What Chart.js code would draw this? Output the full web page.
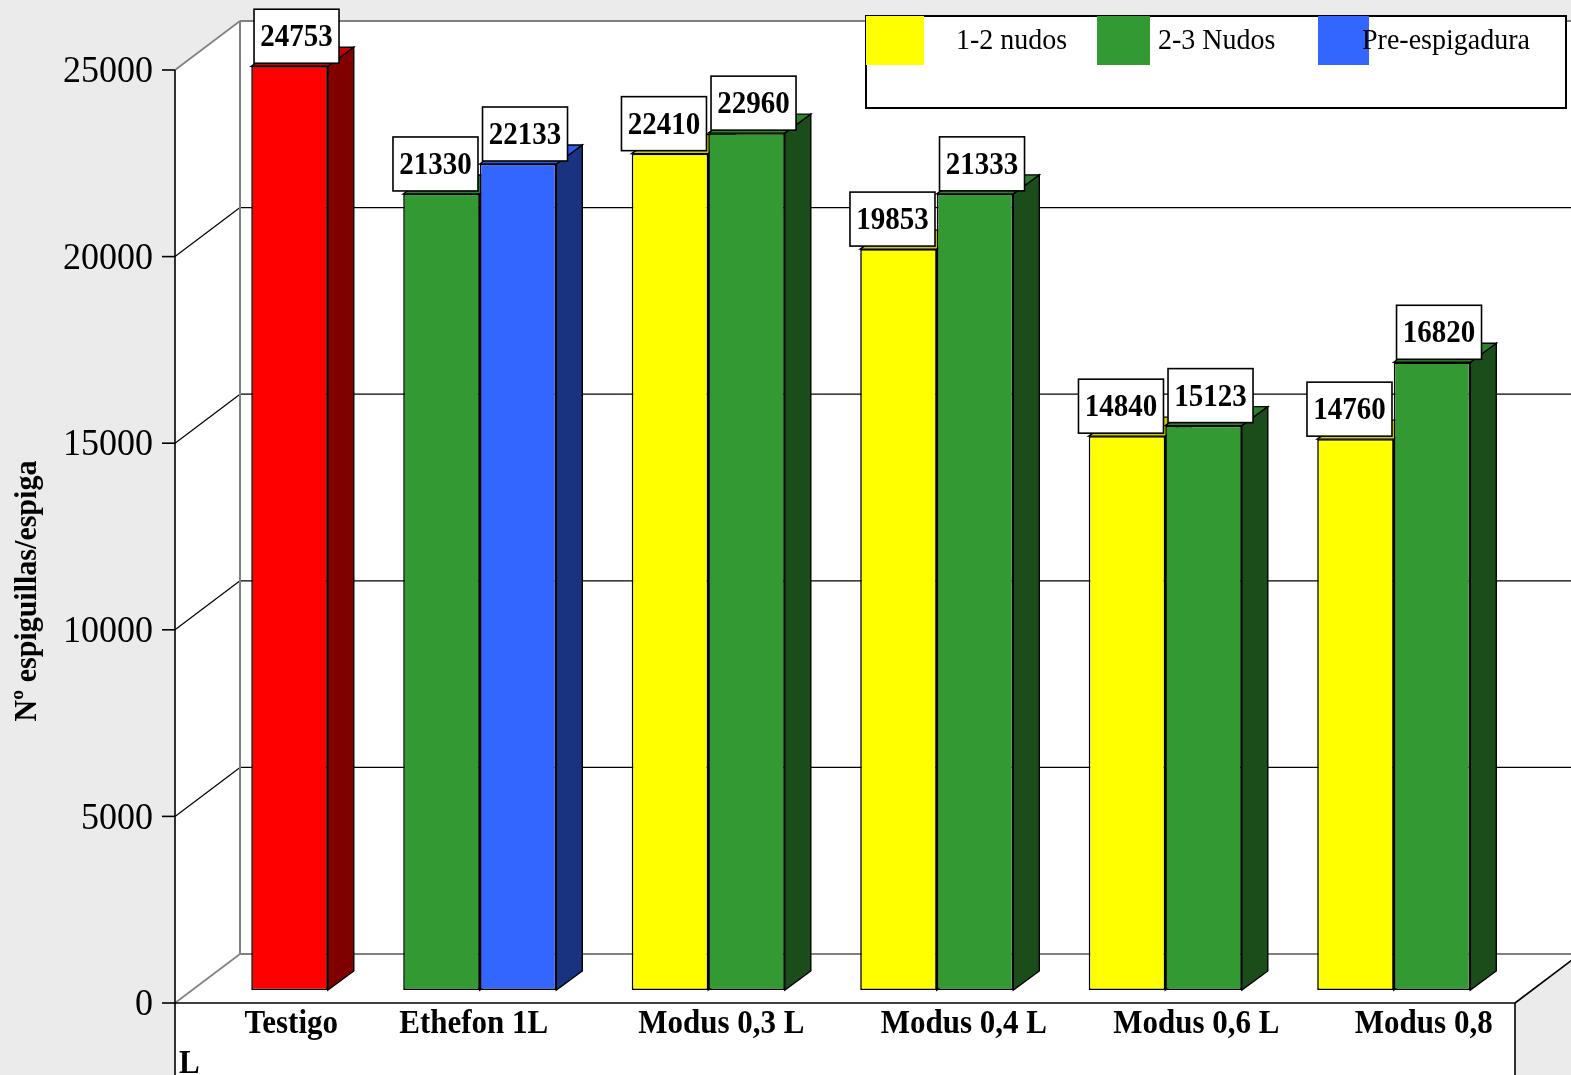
<!DOCTYPE html>
<html>
<head>
<meta charset="utf-8">
<script src="https://cdn.jsdelivr.net/npm/chart.js@4/dist/chart.umd.min.js"></script>
<style>
  html, body { margin: 0; padding: 0; background: #ebebeb; overflow: hidden; }
  canvas { display: block; }
</style>
</head>
<body>
<canvas id="myChart" width="1571" height="1075"></canvas>
<script>
// chart data
const categories = ["Testigo", "Ethefon 1L", "Modus 0,3 L", "Modus 0,4 L", "Modus 0,6 L", "Modus 0,8 L"];
const testigo = [24753, null, null, null, null, null];
const nudos12 = [null, null, 22410, 19853, 14840, 14760];
const nudos23 = [null, 21330, 22960, 21333, 15123, 16820];
const preEspigadura = [null, 22133, null, null, null, null];
const yTicks = [0, 5000, 10000, 15000, 20000, 25000];
const legendLabels = ["1-2 nudos", "2-3 Nudos", "Pre-espigadura"];
const yTitle = "Nº espiguillas/espiga";

const SERIF = "'Liberation Serif', 'Times New Roman', serif";

const red = { front: "#ff0000", top: "#cc0000", side: "#800000" };
const yellow = { front: "#ffff00", top: "#cccc00", side: "#808000" };
const green = { front: "#339933", top: "#2b832b", side: "#1a4d1a" };
const blue = { front: "#3366ff", top: "#2e5ce6", side: "#1a3380" };

// every category has two slots; a lone bar sits in the right one
const seriesList = [
  { values: nudos12, colors: yellow },
  { values: nudos23, colors: green },
  { values: preEspigadura, colors: blue },
  { values: testigo, colors: red },
];
const leftVals = [], rightVals = [], leftCols = [], rightCols = [];
categories.forEach((c, i) => {
  const present = seriesList.filter((s) => s.values[i] != null);
  if (present.length === 1) {
    leftVals.push(null);
    leftCols.push(null);
    rightVals.push(present[0].values[i]);
    rightCols.push(present[0].colors);
  } else {
    leftVals.push(present[0].values[i]);
    leftCols.push(present[0].colors);
    rightVals.push(present[1].values[i]);
    rightCols.push(present[1].colors);
  }
});

// layout of the pseudo 3d frame
const frontX = 175, backX = 240, frontDy = 13, backDy = -36;
const boxRight = 1515;
const barDx = 26, barDy = -19;
const labelShift = [40, -6, 13, 27, 31, 30];
const textStretch = 1.08;

function drawText(c, str, x, y, font, align) {
  c.save();
  c.translate(x, y);
  c.scale(1, textStretch);
  c.font = font;
  c.textAlign = align;
  c.textBaseline = "middle";
  c.fillStyle = "#000";
  c.fillText(str, 0, 0);
  c.restore();
}

function poly(c, pts, fill, stroke, lw) {
  c.beginPath();
  c.moveTo(pts[0][0], pts[0][1]);
  for (let i = 1; i < pts.length; i++) c.lineTo(pts[i][0], pts[i][1]);
  c.closePath();
  if (fill) { c.fillStyle = fill; c.fill(); }
  if (stroke) { c.strokeStyle = stroke; c.lineWidth = lw || 1; c.stroke(); }
}

function line(c, x1, y1, x2, y2, color, lw) {
  c.beginPath();
  c.moveTo(x1, y1);
  c.lineTo(x2, y2);
  c.strokeStyle = color;
  c.lineWidth = lw || 1;
  c.stroke();
}

const frame3d = {
  id: "frame3d",
  beforeDatasetsDraw(chart) {
    const c = chart.ctx;
    const yS = chart.scales.y;
    const W = chart.width, H = chart.height;
    const yF = (v) => yS.getPixelForValue(v) + frontDy;
    const yB = (v) => yS.getPixelForValue(v) + backDy;
    const top = yTicks[yTicks.length - 1];
    const slope = (backX - frontX) / (yF(0) - yB(0));

    c.save();
    c.fillStyle = "#ebebeb";
    c.fillRect(0, 0, W, H);

    // walls and floor
    poly(c, [[frontX, yF(top)], [backX, yB(top)], [backX, yB(0)], [frontX, yF(0)]], "#fff");
    c.fillStyle = "#fff";
    c.fillRect(backX, yB(top), W - backX, yB(0) - yB(top));
    poly(c, [[frontX, yF(0)], [backX, yB(0)], [W, yB(0)], [W, yF(0) - (W - boxRight) / slope], [boxRight, yF(0)]], "#fff");
    c.fillRect(frontX, yF(0), boxRight - frontX, H - yF(0));

    // grid on the back wall and the left wall
    yTicks.forEach((v) => {
      const edge = v === 0 || v === top;
      const col = edge ? "#808080" : "#000";
      line(c, backX, yB(v), W, yB(v), col, edge ? 2 : 1.2);
      line(c, frontX, yF(v), backX, yB(v), col, edge ? 1.6 : 1.2);
    });
    line(c, backX, yB(top), backX, yB(0), "#808080", 2);

    // front axis, ticks and floor edge
    line(c, frontX, yF(top), frontX, H, "#000", 1.6);
    yTicks.forEach((v) => line(c, frontX - 13, yF(v), frontX, yF(v), "#000", 1.6));
    line(c, frontX, yF(0), boxRight, yF(0), "#000", 1.6);
    line(c, boxRight, yF(0), boxRight, H, "#000", 1.6);
    line(c, boxRight, yF(0), W + 5, yF(0) - (W + 5 - boxRight) / slope, "#000", 1.6);

    // side and top faces of the bars
    [[0, leftCols], [1, rightCols]].forEach(([d, cols]) => {
      const meta = chart.getDatasetMeta(d);
      meta.data.forEach((bar, i) => {
        const v = chart.data.datasets[d].data[i];
        if (v == null) return;
        const l = bar.x - bar.width / 2, r = bar.x + bar.width / 2;
        poly(c, [[r, bar.y], [r + barDx, bar.y + barDy], [r + barDx, bar.base + barDy], [r, bar.base]], cols[i].side, "#000", 1.4);
        poly(c, [[l, bar.y], [r, bar.y], [r + barDx, bar.y + barDy], [l + barDx, bar.y + barDy]], cols[i].top, "#000", 1.4);
      });
    });
    c.restore();
  },
  afterDatasetsDraw(chart) {
    const c = chart.ctx;
    const yS = chart.scales.y;
    const xS = chart.scales.x;
    const yF = (v) => yS.getPixelForValue(v) + frontDy;
    c.save();

    // value boxes
    [[0, -6], [1, 7]].forEach(([d, shift]) => {
      const meta = chart.getDatasetMeta(d);
      meta.data.forEach((bar, i) => {
        const v = chart.data.datasets[d].data[i];
        if (v == null) return;
        const cx = bar.x + shift, bottom = bar.y - 3;
        c.fillStyle = "#fff";
        c.fillRect(cx - 42.5, bottom - 54, 85, 54);
        c.strokeStyle = "#000";
        c.lineWidth = 1.6;
        c.strokeRect(cx - 42.5, bottom - 54, 85, 54);
        drawText(c, String(v), cx, bottom - 25, "bold 29px " + SERIF, "center");
      });
    });

    // y tick labels and title
    yTicks.forEach((v) => drawText(c, String(v), 153, yF(v) + 2, "36px " + SERIF, "right"));
    c.save();
    c.translate(28, 591);
    c.rotate(-Math.PI / 2);
    drawText(c, yTitle, 0, 0, "bold 30px " + SERIF, "center");
    c.restore();

    // category labels, the last word of the last one wraps to a new line
    categories.forEach((cat, i) => {
      const x = xS.getPixelForValue(i) + labelShift[i];
      let txt = cat;
      if (i === categories.length - 1) {
        const words = cat.split(" ");
        const last = words.pop();
        txt = words.join(" ");
        drawText(c, last, frontX + 4, 1064, "bold 31px " + SERIF, "left");
      }
      drawText(c, txt, x, 1024, "bold 31px " + SERIF, "center");
    });

    // legend
    const swatchX = [866, 1097, 1318], swatchW = [58, 53, 51], textX = [956, 1158, 1362];
    const legCols = [yellow, green, blue];
    c.fillStyle = "#fff";
    c.fillRect(866, 16, 700, 92);
    c.strokeStyle = "#000";
    c.lineWidth = 2;
    c.strokeRect(866, 16, 700, 92);
    legendLabels.forEach((lab, i) => {
      c.fillStyle = legCols[i].front;
      c.fillRect(swatchX[i], 16, swatchW[i], 49);
      drawText(c, lab, textX[i], 41, "28px " + SERIF, "left");
    });
    c.restore();
  },
};

const ctx = document.getElementById("myChart").getContext("2d");
const myChart = new Chart(ctx, {
  type: "bar",
  data: {
    labels: categories,
    datasets: [
      {
        label: "left",
        data: leftVals,
        backgroundColor: leftCols.map((cl) => (cl ? cl.front : "transparent")),
        borderColor: "#000",
        borderWidth: 1.6,
        borderSkipped: false,
        categoryPercentage: 0.67,
        barPercentage: 1.0,
      },
      {
        label: "right",
        data: rightVals,
        backgroundColor: rightCols.map((cl) => (cl ? cl.front : "transparent")),
        borderColor: "#000",
        borderWidth: 1.6,
        borderSkipped: false,
        categoryPercentage: 0.67,
        barPercentage: 1.0,
      },
    ],
  },
  options: {
    responsive: false,
    animation: false,
    devicePixelRatio: 1,
    layout: { padding: { left: 137, right: 63, top: 57, bottom: 85 } },
    plugins: {
      legend: { display: false },
      tooltip: { enabled: false },
    },
    scales: {
      x: { display: false, offset: true },
      y: { display: false, min: 0, max: 25000 },
    },
  },
  plugins: [frame3d],
});
</script>
</body>
</html>
